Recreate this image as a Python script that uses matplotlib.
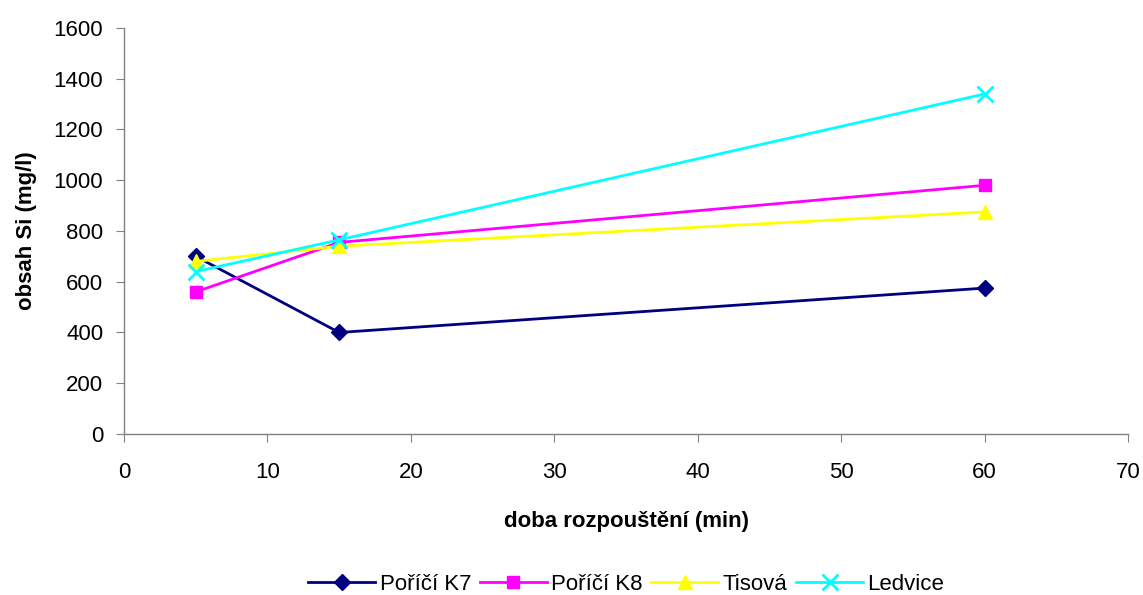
"""Obsah Si v závislosti na době rozpouštění."""

import matplotlib.pyplot as plt

plt.rcParams["font.family"] = ["Liberation Sans", "DejaVu Sans"]

# Data

doba = [5, 15, 60]  # min
porici_k7 = [700, 400, 575]
porici_k8 = [560, 755, 980]
tisova = [680, 740, 875]
ledvice = [640, 765, 1340]

serie = [
    ("Poříčí K7", porici_k7, "#000080", "D", 8),
    ("Poříčí K8", porici_k8, "#FF00FF", "s", 8),
    ("Tisová", tisova, "#FFFF00", "^", 10),
    ("Ledvice", ledvice, "#00FFFF", "x", 11),
]


if __name__ == "__main__":

    fig = plt.figure(figsize=(11.43, 5.95), dpi=100)
    ax = fig.add_axes([0.1085, 0.2706, 0.8785, 0.6824])

    for nazev, hodnoty, barva, znacka, velikost in serie:
        ax.plot(doba, hodnoty, color=barva, marker=znacka, markersize=velikost,
                linewidth=2, markeredgewidth=2 if znacka == "x" else 1,
                label=nazev, clip_on=False)

    ax.set_xlim(0, 70)
    ax.set_ylim(0, 1600)
    ax.set_xticks(range(0, 71, 10))
    ax.set_yticks(range(0, 1601, 200))

    for strana in ("top", "right"):
        ax.spines[strana].set_visible(False)
    for strana in ("left", "bottom"):
        ax.spines[strana].set_color("#808080")
        ax.spines[strana].set_linewidth(1)
    ax.tick_params(direction="out", length=6, color="#808080", labelsize=16)
    ax.tick_params(axis="x", pad=14)
    ax.tick_params(axis="y", pad=9)

    ax.set_xlabel("doba rozpouštění (min)", fontsize=16, fontweight="bold",
                  labelpad=20)
    ax.set_ylabel("obsah Si (mg/l)", fontsize=16, fontweight="bold",
                  labelpad=12)

    fig.legend(loc="lower center", bbox_to_anchor=(0.548, -0.034), ncol=4,
               frameon=False, fontsize=16, handlelength=3.0,
               columnspacing=0.4, handletextpad=0.2)

    fig.savefig("out.png", dpi=100)
